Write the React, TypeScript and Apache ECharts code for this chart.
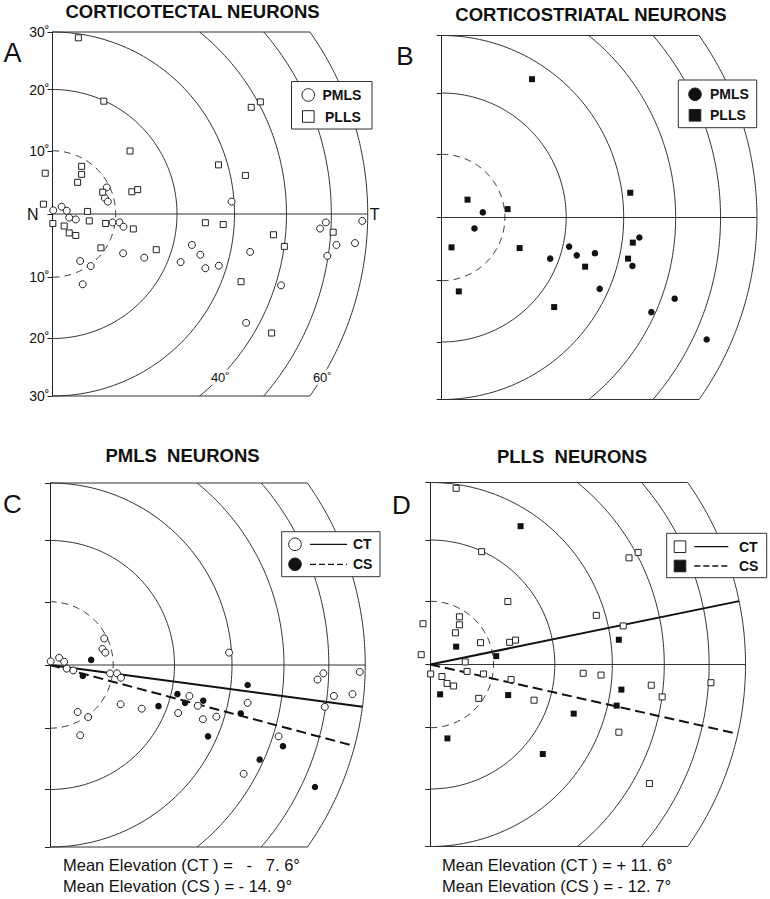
import React, { useEffect, useRef } from "react";
import * as echarts from "echarts";

// ---- reference geometry (degrees) ----
const ECCENTRICITIES = [10, 20, 30, 40, 50, 60];
const ELEVATION_TICKS = [10, 20, 30];
const ECC_LABELS = [40, 60];

// ---- receptive-field centres, orthographic projection units (sphere radius = 100) ----
const PMLS_CT = [
  [0.2, 1.0], [2.5, 2.0], [3.9, 0.9], [4.6, -1.0], [6.4, -1.5], [14.9, 7.3], [14.4, 4.4], [15.2, 3.4],
  [16.5, -2.3], [18.4, -2.3], [19.5, -3.5], [19.4, -10.8], [25.2, -12.0], [7.6, -12.9], [10.5, -14.3],
  [8.3, -19.3], [35.2, -13.2], [38.3, -8.5], [40.6, -11.2], [42.0, -14.9], [45.7, -14.2], [54.3, -10.4],
  [49.2, 3.4], [62.8, -19.6], [53.2, -29.9], [73.5, -4.0], [75.1, -2.3], [78.0, -8.5], [75.5, -11.5],
  [83.1, -8.0], [85.1, -1.9],
];
const PLLS_CT = [
  [7.1, 48.4], [14.1, 31.0], [-2.0, 11.2], [-2.5, 2.7], [8.0, 13.1], [8.0, 10.9], [6.9, 8.7], [13.8, 6.0],
  [21.3, 17.3], [21.8, 6.1], [23.4, 6.7], [9.6, 0.7], [0.1, -2.6], [3.2, -3.3], [10.1, -1.9], [4.6, -5.2],
  [6.4, -5.9], [14.6, -2.6], [22.2, -4.1], [13.3, -9.3], [28.5, -9.8], [45.6, 13.5], [53.0, 10.6],
  [54.6, 29.3], [57.1, 30.8], [42.0, -2.4], [46.9, -2.9], [60.7, -5.7], [63.7, -8.9], [51.8, -18.6],
  [60.2, -32.7], [77.1, -5.0],
];
const PMLS_CS = [
  [11.3, 1.4], [9.0, -3.0], [29.8, -11.3], [35.0, -8.0], [37.1, -10.4], [42.1, -9.8], [54.3, -5.5],
  [52.4, -13.3], [43.4, -19.6], [64.0, -22.3], [57.6, -26.0], [72.8, -33.5],
];
const PLLS_CS = [
  [7.1, 4.9], [18.1, 2.3], [2.7, -8.2], [21.4, -8.4], [4.7, -20.3], [30.9, -24.6], [51.8, 6.8],
  [52.5, -6.9], [51.2, -11.3], [39.4, -13.5], [24.8, 38.0],
];

// mean elevations [CT, CS] in degrees
const MEAN_PMLS = [-7.6, -14.9];
const MEAN_PLLS = [11.6, -12.7];

const FONT = '"Liberation Sans", Arial, Helvetica, sans-serif';
const INK = "#111";
const S = 3.64; // px per projection unit
const proj = (deg: number) => 100 * Math.sin((deg * Math.PI) / 180);
const EL_MAX = proj(30);
const R_MAX = proj(60);
const LAYOUT = [
  { ox: 52.5, oy: 214 },
  { ox: 441.7, oy: 217.5 },
  { ox: 50, oy: 665 },
  { ox: 430.3, oy: 664.5 },
];

function arcData(r: number) {
  const phi = r <= EL_MAX + 1e-9 ? Math.PI / 2 : Math.asin(EL_MAX / r);
  const pts: number[][] = [];
  const n = 120;
  for (let k = 0; k <= n; k++) {
    const a = -phi + (2 * phi * k) / n;
    pts.push([r * Math.cos(a), r * Math.sin(a)]);
  }
  return pts;
}

function fmtMean(v: number) {
  const sign = v < 0 ? "-" : "+";
  const a = Math.abs(v).toFixed(1).split(".");
  const NB = "\u00A0";
  const pad = a[0].length < 2 ? NB + NB + NB : NB;
  const lead = a[0].length < 2 ? NB + NB : "";
  return `=${NB}${lead}${sign}${pad}${a[0]}.${NB}${a[1]}°`;
}

export default function App() {
  const ref = useRef<HTMLDivElement>(null);
  useEffect(() => {
    if (!ref.current) return;
    const chart = echarts.init(ref.current, undefined, { renderer: "svg" });
    const grids: any[] = [];
    const xAxes: any[] = [];
    const yAxes: any[] = [];
    const series: any[] = [];
    const tickVals = [...ELEVATION_TICKS.map((e) => -proj(e)), 0, ...ELEVATION_TICKS.map((e) => proj(e))];
    const labelVals = [...ELEVATION_TICKS.map((e) => -proj(e)), ...ELEVATION_TICKS.map((e) => proj(e))];
    const xTop = Math.sqrt(R_MAX * R_MAX - EL_MAX * EL_MAX);

    LAYOUT.forEach((p, i) => {
      grids.push({
        left: p.ox,
        top: p.oy - EL_MAX * S,
        width: R_MAX * S,
        height: 2 * EL_MAX * S,
        containLabel: false,
        outerBoundsMode: "none",
      });
      xAxes.push({ gridIndex: i, type: "value", min: 0, max: R_MAX, show: false });
      yAxes.push({
        gridIndex: i,
        type: "value",
        min: -EL_MAX,
        max: EL_MAX,
        axisLine: { show: true, onZero: false, lineStyle: { color: "#222", width: 1 } },
        axisTick: { show: true, length: 5, customValues: tickVals, lineStyle: { color: "#222", width: 1 } },
        axisLabel: {
          show: i === 0,
          customValues: labelVals,
          margin: 3,
          fontSize: 14,
          color: INK,
          fontFamily: FONT,
          formatter: (v: number) => Math.round((Math.asin(Math.abs(v) / 100) * 180) / Math.PI) + "˚",
        },
        splitLine: { show: false },
      });
      const common = { xAxisIndex: i, yAxisIndex: i, silent: true, clip: false };
      ECCENTRICITIES.forEach((e) => {
        series.push({
          ...common,
          type: "line",
          data: arcData(proj(e)),
          showSymbol: false,
          symbol: "none",
          z: 2,
          lineStyle: { color: "#333", width: 1, type: e === 10 ? [7, 5] : "solid" },
        });
      });
      const frame = [
        [[0, EL_MAX], [xTop, EL_MAX]],
        [[0, -EL_MAX], [xTop, -EL_MAX]],
        [[0, 0], [R_MAX, 0]],
      ];
      frame.forEach((d) =>
        series.push({ ...common, type: "line", data: d, showSymbol: false, symbol: "none", z: 2, lineStyle: { color: "#333", width: 1 } })
      );
    });

    const open = (sym: string, size: number) => ({
      type: "scatter",
      symbol: sym,
      symbolSize: size,
      itemStyle: { color: "#fff", borderColor: "#222", borderWidth: 1, opacity: 1 },
      z: 5,
      silent: true,
      clip: false,
    });
    const filled = (sym: string, size: number) => ({
      type: "scatter",
      symbol: sym,
      symbolSize: size,
      itemStyle: { color: INK, opacity: 1 },
      z: 5,
      silent: true,
      clip: false,
    });
    const idx = (i: number) => ({ xAxisIndex: i, yAxisIndex: i });
    // A
    series.push({ ...open("circle", 7), ...idx(0), name: "PMLS CT", data: PMLS_CT });
    series.push({ ...open("rect", 6), ...idx(0), name: "PLLS CT", data: PLLS_CT });
    // B
    series.push({ ...filled("circle", 6.5), ...idx(1), name: "PMLS CS", data: PMLS_CS });
    series.push({ ...filled("rect", 6), ...idx(1), name: "PLLS CS", data: PLLS_CS });
    // C
    series.push({ ...open("circle", 7), ...idx(2), name: "PMLS CT", data: PMLS_CT });
    series.push({ ...filled("circle", 6.5), ...idx(2), name: "PMLS CS", data: PMLS_CS });
    // D
    series.push({ ...open("rect", 6), ...idx(3), name: "PLLS CT", data: PLLS_CT });
    series.push({ ...filled("rect", 6), ...idx(3), name: "PLLS CS", data: PLLS_CS });

    const ray = (deg: number) => {
      const a = (deg * Math.PI) / 180;
      return [[0, 0], [R_MAX * Math.cos(a), R_MAX * Math.sin(a)]];
    };
    [[2, MEAN_PMLS], [3, MEAN_PLLS]].forEach(([gi, m]: any) => {
      series.push({ type: "line", ...idx(gi), data: ray(m[0]), showSymbol: false, symbol: "none", z: 4, silent: true, clip: false, lineStyle: { color: INK, width: 2 } });
      series.push({ type: "line", ...idx(gi), data: ray(m[1]), showSymbol: false, symbol: "none", z: 4, silent: true, clip: false, lineStyle: { color: INK, width: 2, type: [10, 5] } });
    });

    // annotation labels in panel A
    const labelY = -44.8;
    const lab = { color: INK, fontFamily: FONT, textBorderWidth: 0, opacity: 1 };
    series.push({
      type: "scatter",
      ...idx(0),
      symbolSize: 0,
      silent: true,
      clip: false,
      z: 10,
      data: [
        { value: [0, 0], label: { ...lab, show: true, position: "left", distance: 14, formatter: "N", fontSize: 16 } },
        { value: [R_MAX, 0], label: { ...lab, show: true, position: "right", distance: 2, formatter: "T", fontSize: 16 } },
        ...ECC_LABELS.map((e) => {
          const r = proj(e);
          return {
            value: [Math.sqrt(r * r - labelY * labelY), labelY],
            label: { ...lab, show: true, position: "inside", formatter: e + "˚", fontSize: 13, backgroundColor: "#fff", padding: [1, 1] },
          };
        }),
      ],
    });

    const txt = (text: string, x: number, y: number, font: string, align = "center") => ({
      type: "text",
      x,
      y,
      z: 100,
      style: { text, font, fill: INK, textAlign: align, textVerticalAlign: "middle", align, verticalAlign: "middle" },
    });
    const bold = (s: number) => `bold ${s}px ${FONT}`;
    const reg = (s: number) => `${s}px ${FONT}`;
    const legendBox = (x: number, y: number, w: number, h: number) => ({
      type: "rect",
      z: 90,
      shape: { x, y, width: w, height: h },
      style: { fill: "#fff", stroke: "#333", lineWidth: 1 },
    });
    const circ = (cx: number, cy: number, fill: string) => ({
      type: "circle", z: 100, shape: { cx, cy, r: 6.3 }, style: { fill, stroke: "#222", lineWidth: 1 },
    });
    const sq = (cx: number, cy: number, fill: string) => ({
      type: "rect", z: 100, shape: { x: cx - 5.8, y: cy - 5.8, width: 11.6, height: 11.6 }, style: { fill, stroke: "#222", lineWidth: 1 },
    });
    const seg = (x1: number, x2: number, y: number, dash: boolean) => ({
      type: "line", z: 100, shape: { x1, y1: y, x2, y2: y }, style: { stroke: INK, lineWidth: 1.3, lineDash: dash ? [6, 3] : null },
    });

    const graphic: any[] = [
      txt("CORTICOTECTAL NEURONS", 192.5, 11, bold(18.5)),
      txt("CORTICOSTRIATAL NEURONS", 591, 14, bold(18.5)),
      txt("PMLS  NEURONS", 182.5, 455, bold(18.5)),
      txt("PLLS  NEURONS", 572, 456, bold(18.5)),
      txt("A", 12.5, 53, reg(27)),
      txt("B", 405, 56, reg(26)),
      txt("C", 12.5, 504, reg(26)),
      txt("D", 401.5, 505, reg(26)),
      // legend A
      legendBox(291.5, 81.5, 80.5, 47.5),
      circ(308.3, 95, "#fff"),
      txt("PMLS", 322.5, 95, bold(14), "left"),
      sq(308.3, 116.5, "#fff"),
      txt("PLLS", 325, 116.5, bold(14), "left"),
      // legend B
      legendBox(678.3, 80, 78.4, 47.7),
      circ(695, 94.3, INK),
      txt("PMLS", 710, 94.3, bold(14), "left"),
      sq(695, 115.3, INK),
      txt("PLLS", 710, 115.3, bold(14), "left"),
      // legend C
      legendBox(281.7, 531.7, 98.3, 45),
      circ(295, 544.3, "#fff"),
      seg(310, 347, 544.3, false),
      txt("CT", 353, 544.3, bold(14), "left"),
      circ(295, 564.3, INK),
      seg(310, 347, 564.3, true),
      txt("CS", 353, 564.3, bold(14), "left"),
      // legend D
      legendBox(666.7, 533.3, 100, 44.4),
      sq(680, 546.7, "#fff"),
      seg(694.3, 728.3, 546.7, false),
      txt("CT", 739, 546.7, bold(14), "left"),
      sq(680, 566, INK),
      seg(694.3, 728.3, 566, true),
      txt("CS", 739, 566, bold(14), "left"),
      // mean elevation texts
      txt(`Mean Elevation (CT ) ${fmtMean(MEAN_PMLS[0])}`, 63, 865, reg(16.5), "left"),
      txt(`Mean Elevation (CS ) ${fmtMean(MEAN_PMLS[1])}`, 63, 886, reg(16.5), "left"),
      txt(`Mean Elevation (CT ) ${fmtMean(MEAN_PLLS[0])}`, 442, 865, reg(16.5), "left"),
      txt(`Mean Elevation (CS ) ${fmtMean(MEAN_PLLS[1])}`, 442, 886, reg(16.5), "left"),
    ];

    chart.setOption({
      animation: false,
      backgroundColor: "#fff",
      textStyle: { fontFamily: FONT },
      grid: grids,
      xAxis: xAxes,
      yAxis: yAxes,
      series,
      graphic,
    });
    return () => chart.dispose();
  }, []);
  return <div ref={ref} style={{ position: "fixed", left: 0, top: 0, width: 770, height: 899, background: "#fff" }} />;
}
